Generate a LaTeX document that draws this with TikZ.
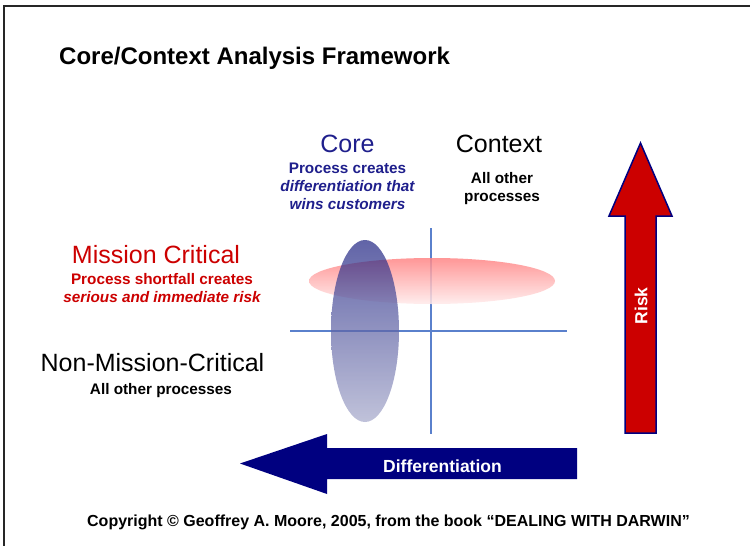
\documentclass[tikz,border=0pt]{standalone}
\usepackage{fontspec}
\setmainfont{Liberation Sans}
\usetikzlibrary{positioning}

\definecolor{coreblue}{HTML}{1F1F8C}
\definecolor{critred}{HTML}{CC0000}
\definecolor{axisblue}{HTML}{5A80CC}
\definecolor{darknavy}{HTML}{000080}

\tikzstyle{heading} = [font=\fontsize{25}{28}\selectfont, inner sep=0pt]
\tikzstyle{remark} = [font=\fontsize{15.3}{18}\selectfont\bfseries, align=center, inner sep=0pt]
\tikzstyle{axisline} = [draw=axisblue, line width=2.4pt]
\tikzstyle{arrowtext} = [font=\fontsize{17.5}{20}\selectfont\bfseries, text=white, inner sep=0pt]

\begin{document}
\begin{tikzpicture}[x=1pt, y=-1pt]
    \useasboundingbox (0,0) rectangle (750,546);
    % Frame
    \draw[line width=2.5pt, black!85] (4,546) -- (4,6) -- (750,6);

    % Place nodes
    \node[font=\fontsize{24}{28}\selectfont\bfseries, anchor=base west, inner sep=0pt] (title) at (59,64.5) {Core/Context Analysis Framework};
    \node[heading, text=coreblue, anchor=base] (core) at (347.5,152) {Core};
    \node[remark, text=coreblue, below=10pt of core] (core-sub) {Process creates\\\itshape differentiation that\\\itshape wins customers};
    \node[heading, anchor=base] (context) at (499,152) {Context};
    \node[remark, below=20pt of context, xshift=3pt] (context-sub) {All other\\processes};
    \node[heading, text=critred, anchor=base] (mission) at (156,263) {Mission Critical};
    \node[remark, text=critred, below=10pt of mission, xshift=6pt] (mission-sub) {Process shortfall creates\\\itshape serious and immediate risk};
    \node[heading, anchor=base] (nonmission) at (152.5,371) {Non-Mission-Critical};
    \node[remark, below=11.5pt of nonmission, xshift=8.5pt] (nonmission-sub) {All other processes};

    % Draw axes and areas
    \coordinate (vtop) at (431,228);
    \coordinate (vbot) at (431,434);
    \coordinate (hleft) at (290,331);
    \coordinate (hright) at (567,331);
    \path [axisline] (vtop) -- (vbot);
    \path [axisline] (hleft) -- (hright);
    \shade[top color=red!48!white, bottom color=red!8!white, opacity=0.85] (432,281) ellipse [x radius=123pt, y radius=23pt];
    \shade[top color={rgb,255:red,30;green,34;blue,130}, bottom color={rgb,255:red,165;green,168;blue,202}, opacity=0.7] (365,331) ellipse [x radius=34pt, y radius=91pt];

    % Risk arrow
    \draw[fill=critred, draw=darknavy, line width=1.5pt] (640.5,143) -- (672,216) -- (656,216) -- (656,433) -- (625,433) -- (625,216) -- (609,216) -- cycle;
    \node[arrowtext, rotate=90] (risk) at (641,306) {Risk};

    % Differentiation arrow
    \fill[darknavy] (240,463.5) -- (327,434) -- (327,448) -- (577,448) -- (577,479) -- (327,479) -- (327,494) -- cycle;
    \node[arrowtext, anchor=base] (differentiation) at (442.5,472) {Differentiation};

    % Footer
    \node[font=\fontsize{16}{18}\selectfont\bfseries, anchor=base, inner sep=0pt] (footer) at (388.5,526) {Copyright © Geoffrey A. Moore, 2005, from the book “DEALING WITH DARWIN”};
\end{tikzpicture}
\end{document}
